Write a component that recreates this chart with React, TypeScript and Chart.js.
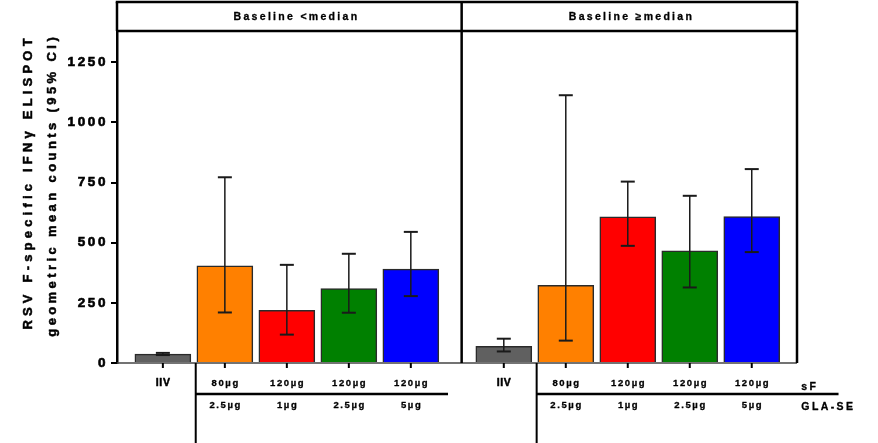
import React, { useEffect, useRef } from 'react';
import { Chart, registerables } from 'chart.js';
Chart.register(...registerables);

const panelTitles = ['Baseline <median', 'Baseline \u2265median'];
const positions = [0, 1, 2, 3, 4, 5.5, 6.5, 7.5, 8.5, 9.5];
const geoMeans = [37, 404, 219, 309, 390, 69, 323, 608, 466, 609];
const ciLower = [33, 210, 118, 209, 278, 48, 93, 487, 314, 461];
const ciUpper = [42, 772, 408, 454, 545, 101, 1113, 754, 695, 806];
const barColors = ['#606060', '#FF8000', '#FF0000', '#008000', '#0000FF', '#606060', '#FF8000', '#FF0000', '#008000', '#0000FF'];
const sfLabels = ['IIV', '80\u00b5g', '120\u00b5g', '120\u00b5g', '120\u00b5g', 'IIV', '80\u00b5g', '120\u00b5g', '120\u00b5g', '120\u00b5g'];
const glaLabels = ['', '2.5\u00b5g', '1\u00b5g', '2.5\u00b5g', '5\u00b5g', '', '2.5\u00b5g', '1\u00b5g', '2.5\u00b5g', '5\u00b5g'];
const rowNames = ['sF', 'GLA-SE'];
const yTitleLines = ['RSV F-specific IFN\u03b3 ELISPOT', 'geometric mean counts (95% CI)'];
const yMax = 1380;
const yStep = 250;

const FONT = '"Liberation Sans", Arial, Helvetica, sans-serif';

function txt(ctx: CanvasRenderingContext2D, s: string, x: number, y: number, size: number, spacing: number, align: CanvasTextAlign = 'center', stroke = 0.4) {
  ctx.font = `bold ${size}px ${FONT}`;
  (ctx as any).letterSpacing = spacing + 'px';
  ctx.textAlign = align;
  ctx.textBaseline = 'middle';
  ctx.fillStyle = '#000';
  const xx = align === 'center' ? x + spacing / 2 : x;
  ctx.fillText(s, xx, y);
  if (stroke > 0) {
    ctx.strokeStyle = '#000';
    ctx.lineWidth = stroke;
    ctx.lineJoin = 'round';
    ctx.strokeText(s, xx, y);
  }
}

function line(ctx: CanvasRenderingContext2D, x1: number, y1: number, x2: number, y2: number, w: number, color = '#000') {
  ctx.beginPath();
  ctx.strokeStyle = color;
  ctx.lineWidth = w;
  ctx.moveTo(x1, y1);
  ctx.lineTo(x2, y2);
  ctx.stroke();
}

const decorPlugin = {
  id: 'decor',
  beforeDraw(chart: any) {
    (chart.ctx as any).letterSpacing = '2.6px';
  },
  beforeDatasetsDraw(chart: any) {
    const { ctx, chartArea } = chart;
    const y = chart.scales.y;
    ctx.save();
    line(ctx, chartArea.left, y.getPixelForValue(0), chartArea.right, y.getPixelForValue(0), 1.4, '#444');
    ctx.restore();
  },
  afterDatasetsDraw(chart: any) {
    const { ctx } = chart;
    const x = chart.scales.x;
    const y = chart.scales.y;
    ctx.save();
    positions.forEach((p, i) => {
      const px = x.getPixelForValue(p);
      const lo = y.getPixelForValue(ciLower[i]);
      const hi = y.getPixelForValue(ciUpper[i]);
      line(ctx, px, lo, px, hi, 1.5, '#1a1a1a');
      line(ctx, px - 7, lo, px + 7, lo, 2, '#1a1a1a');
      line(ctx, px - 7, hi, px + 7, hi, 2, '#1a1a1a');
    });
    ctx.restore();
  },
  afterDraw(chart: any) {
    const { ctx, chartArea } = chart;
    const { left, right, top, bottom } = chartArea;
    const x = chart.scales.x;
    ctx.save();
    const headTop = 2;
    const divX = x.getPixelForValue(4.82);
    // header box and panel borders
    line(ctx, left - 1.25, headTop, right + 1.25, headTop, 2.5);
    line(ctx, left, top, right, top, 2.5);
    line(ctx, left, headTop, left, top, 2.5);
    line(ctx, divX, headTop, divX, bottom, 2.5);
    line(ctx, right, headTop, right, bottom, 2.5);
    txt(ctx, panelTitles[0], (left + divX) / 2 + 6, (headTop + top) / 2 + 0.5, 10.5, 2.3, 'center', 0.3);
    txt(ctx, panelTitles[1], (divX + right) / 2 + 1, (headTop + top) / 2 + 0.5, 10.5, 2.3, 'center', 0.3);

    // x tick marks
    positions.forEach((p) => {
      const px = x.getPixelForValue(p);
      line(ctx, px, bottom, px, bottom + 5, 2);
    });

    // category labels
    const row1 = bottom + 20;
    const row2 = bottom + 42;
    positions.forEach((p, i) => {
      const px = x.getPixelForValue(p);
      if (sfLabels[i] === 'IIV') {
        txt(ctx, sfLabels[i], px, row1, 10.5, 0.6, 'center', 0.5);
      } else {
        txt(ctx, sfLabels[i], px, row1, 9.5, 1.6, 'center', 0.3);
      }
      if (glaLabels[i]) txt(ctx, glaLabels[i], px, row2, 9.5, 1.6, 'center', 0.3);
    });

    // group separators
    const sepY = bottom + 31;
    const s1 = x.getPixelForValue(0.53);
    const s2 = x.getPixelForValue(6.03);
    line(ctx, s1, bottom, s1, 443, 2);
    line(ctx, s2, bottom, s2, 443, 2);
    line(ctx, s1, sepY, x.getPixelForValue(4.6), sepY, 2.5);
    line(ctx, s2, sepY, x.getPixelForValue(10.9), sepY, 2.5);
    const nameX = x.getPixelForValue(10.3);
    txt(ctx, rowNames[0], nameX, row1 + 4, 10.5, 2.4, 'left', 0.3);
    txt(ctx, rowNames[1], nameX, row2 + 2, 10.5, 2.4, 'left', 0.3);

    // y title
    ctx.translate(28, 184);
    ctx.rotate(-Math.PI / 2);
    txt(ctx, yTitleLines[0], 0, 0, 13, 4.2, 'center', 0.5);
    ctx.rotate(Math.PI / 2);
    ctx.translate(24, 3);
    ctx.rotate(-Math.PI / 2);
    txt(ctx, yTitleLines[1], 0, 0, 13, 3.4, 'center', 0.5);
    ctx.restore();
    (ctx as any).letterSpacing = '2.6px';
  },
};

export default function App() {
  const ref = useRef<HTMLCanvasElement>(null);
  useEffect(() => {
    if (!ref.current) return;
    const chart = new Chart(ref.current, {
      type: 'bar',
      data: {
        datasets: [
          {
            data: positions.map((p, i) => ({ x: p, y: geoMeans[i] })),
            backgroundColor: barColors,
            borderColor: '#2a2a2a',
            borderWidth: 1.5,
            barThickness: 56,
          } as any,
        ],
      },
      options: {
        animation: false,
        responsive: false,
        layout: { padding: { top: 31, bottom: 80, left: 0, right: 81 } },
        plugins: { legend: { display: false }, tooltip: { enabled: false } },
        scales: {
          x: {
            type: 'linear',
            offset: false,
            min: -0.74,
            max: 10.23,
            display: false,
            grid: { offset: false },
            ticks: { stepSize: 1, includeBounds: false },
          },
          y: {
            min: 0,
            max: yMax,
            ticks: {
              stepSize: yStep,
              includeBounds: false,
              color: '#000',
              padding: 3,
              textStrokeColor: '#000',
              textStrokeWidth: 0.6,
              font: { family: FONT, size: 13.5, weight: 'bold' },
              callback: (v: any) => String(v),
            },
            grid: { drawOnChartArea: false, drawTicks: true, tickLength: 6, color: '#000', lineWidth: 2 },
            border: { display: true, color: '#000', width: 2.5 },
            afterFit: (s: any) => {
              s.width = 117;
            },
          },
        },
      } as any,
      plugins: [decorPlugin],
    });
    return () => chart.destroy();
  }, []);
  return (
    <div style={{ position: 'absolute', left: 0, top: 0, width: 878, height: 443, background: '#fff' }}>
      <canvas ref={ref} width={878} height={443} style={{ display: 'block' }} />
    </div>
  );
}
